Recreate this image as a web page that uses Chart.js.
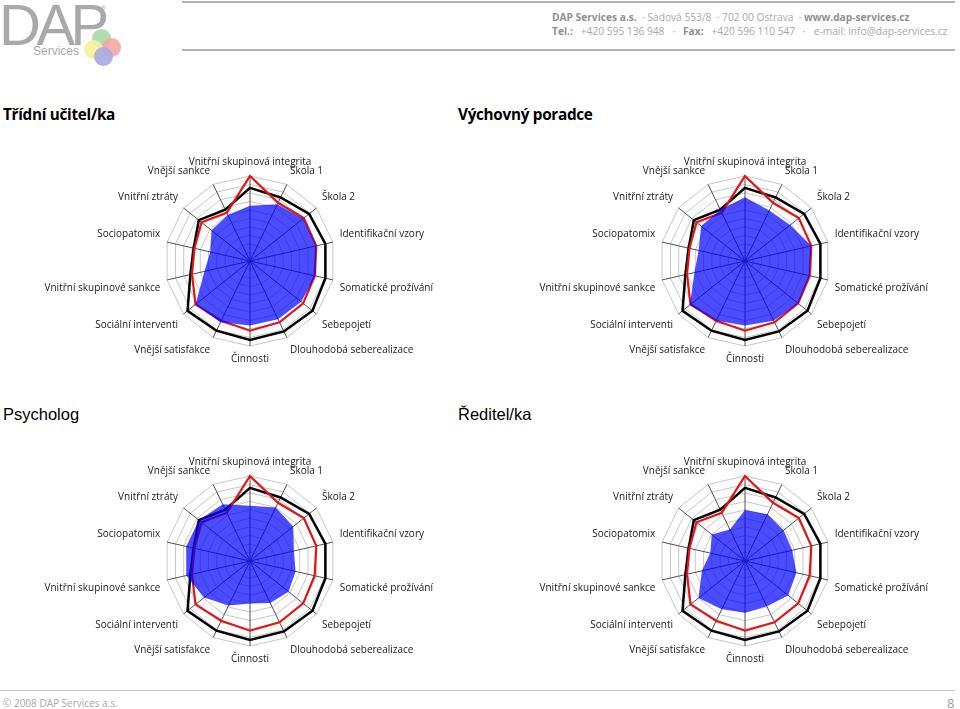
<!DOCTYPE html>
<html>
<head>
<meta charset="utf-8">
<script src="https://cdn.jsdelivr.net/npm/chart.js@4/dist/chart.umd.min.js"></script>
<style>
  html, body { margin: 0; padding: 0; background: #fff; }
  body { width: 960px; height: 709px; position: relative; overflow: hidden; font-family: "Open Sans", sans-serif; }
  .abs { position: absolute; white-space: nowrap; }
  .hline { position: absolute; height: 2px; background: #b4b4b4; }
  .logo { left: -1px; top: -9px; font-family: "Liberation Sans", Arial, sans-serif; font-size: 58px; color: #a9a9a9; letter-spacing: -4.5px; }
  .services { left: 33px; top: 44px; font-family: "Liberation Sans", Arial, sans-serif; font-size: 12px; color: #a9a9a9; }
  .dot { position: absolute; width: 19px; height: 19px; border-radius: 50%; }
  .contact { left: 552px; font-size: 10.2px; color: #a8a8a8; }
  .contact b { color: #909090; }
  .title1 { font-family: "Open Sans", sans-serif; font-weight: 700; font-size: 15.3px; color: #000; letter-spacing: -0.3px; }
  .title2 { font-family: "Liberation Sans", Arial, sans-serif; font-size: 16.5px; color: #000; }
  canvas { position: absolute; }
</style>
</head>
<body>
<!-- header -->
<div class="abs logo">DAP</div>
<div class="abs" style="left:101px;top:4px;font-size:6px;color:#b0b0b0;">®</div>
<div class="abs services">Services</div>
<div class="dot" style="left:92px;top:29px;background:#a8d8a8;opacity:.9"></div>
<div class="dot" style="left:102px;top:38px;background:#f4a5a5;opacity:.9"></div>
<div class="dot" style="left:84px;top:40px;background:#f6f09a;opacity:.9"></div>
<div class="dot" style="left:94px;top:47px;background:#a9a9e2;opacity:.9"></div>
<div class="hline" style="left:182px;top:1px;width:773px;"></div>
<div class="hline" style="left:182px;top:49px;width:773px;"></div>
<div class="abs contact" style="top:10px;"><b>DAP Services a.s.</b>&nbsp; · Sadová 553/8&nbsp; · 702 00 Ostrava&nbsp; · <b>www.dap-services.cz</b></div>
<div class="abs contact" style="top:24px;"><b>Tel.:</b>&nbsp; &nbsp;+420 595 136 948 &nbsp; · &nbsp; <b>Fax:</b>&nbsp; &nbsp;+420 596 110 547 &nbsp; · &nbsp; e-mail: info@dap-services.cz</div>

<!-- titles -->
<div class="abs title1" style="left:3px;top:104px;">Třídní učitel/ka</div>
<div class="abs title1" style="left:458px;top:104px;">Výchovný poradce</div>
<div class="abs title2" style="left:3px;top:405px;">Psycholog</div>
<div class="abs title2" style="left:458px;top:405px;">Ředitel/ka</div>

<canvas id="chart1" width="460" height="211" style="left:20px;top:156px;"></canvas>
<canvas id="chart2" width="460" height="211" style="left:515px;top:156px;"></canvas>
<canvas id="chart3" width="460" height="211" style="left:20px;top:456px;"></canvas>
<canvas id="chart4" width="460" height="211" style="left:515px;top:456px;"></canvas>

<!-- footer -->
<div class="hline" style="left:0;top:690px;width:955px;height:1px;background:#c4c4c4;"></div>
<div class="abs" style="left:3px;top:696px;font-size:10px;color:#a8a8a8;">© 2008 DAP Services a.s.</div>
<div class="abs" style="left:947px;top:694px;font-size:13px;color:#a0a0a0;">8</div>

<script>
//categories
var categories = [
  "Vnitřní skupinová integrita", "Škola 1", "Škola 2", "Identifikační vzory",
  "Somatické prožívání", "Sebepojetí", "Dlouhodobá seberealizace", "Činnosti",
  "Vnější satisfakce", "Sociální interventi", "Vnitřní skupinové sankce",
  "Sociopatomix", "Vnitřní ztráty", "Vnější sankce"
]
//reference lines, same in all four charts
var blackLine = [86, 83, 89, 91, 91, 94, 92, 93, 91, 94, 72, 68, 77, 67]
var redLine = [100, 76, 81, 80, 78, 80, 80, 82, 78, 82, 70, 67, 73, 63]
//respondent groups
var ucitel = [65, 74, 80, 80, 79, 77, 76, 76, 80, 82, 55, 48, 58, 60]
var poradce = [75, 66, 68, 80, 78, 80, 78, 76, 78, 83, 61, 56, 66, 67]
var psycholog = [65, 70, 65, 53, 55, 58, 55, 50, 58, 69, 77, 77, 77, 74]
var reditel = [60, 61, 58, 57, 62, 65, 59, 61, 63, 70, 52, 42, 50, 41]
var scaleMax = 100
var scaleStep = 10

function radarConfig(values) {
  return {
    type: 'radar',
    data: {
      labels: categories,
      datasets: [{
        data: values,
        backgroundColor: 'rgba(0, 0, 255, 0.7)',
        borderWidth: 0,
        fill: true
      }, {
        data: redLine,
        borderColor: '#e41414',
        borderWidth: 2.2,
        fill: false
      }, {
        data: blackLine,
        borderColor: '#000000',
        borderWidth: 2.5,
        fill: false
      }]
    },
    options: {
      responsive: false,
      animation: false,
      devicePixelRatio: 1,
      plugins: {
        legend: { display: false },
        tooltip: { enabled: false }
      },
      elements: {
        point: { radius: 0 },
        line: { tension: 0 }
      },
      scales: {
        r: {
          min: 0,
          max: scaleMax,
          ticks: { display: false, stepSize: scaleStep },
          grid: { color: '#c6c6c6', lineWidth: 1 },
          angleLines: { color: '#505050', lineWidth: 1 },
          pointLabels: {
            color: '#1a1a1a',
            padding: 7,
            font: { family: "'Open Sans'", size: 10, lineHeight: 1.3 }
          }
        }
      }
    }
  }
}

new Chart(document.getElementById('chart1'), radarConfig(ucitel))
new Chart(document.getElementById('chart2'), radarConfig(poradce))
new Chart(document.getElementById('chart3'), radarConfig(psycholog))
new Chart(document.getElementById('chart4'), radarConfig(reditel))
</script>
</body>
</html>
